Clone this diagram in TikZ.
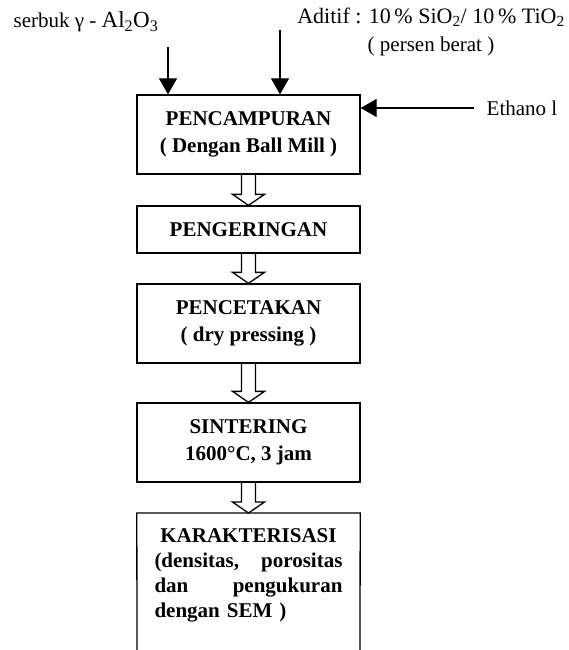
\documentclass[tikz,border=0pt]{standalone}
\usepackage{fontspec}
\setmainfont{Liberation Serif}
\usepackage{tikz}
\usetikzlibrary{calc}
\usetikzlibrary{arrows.meta}
\usetikzlibrary{positioning}

% hollow double-stem arrow between two boxes
\newcommand{\flowstep}[2]{%
  \draw[hollow] ($(#1.south)+(-7,0)$) -- ($(#2.north)+(-7,-11)$)
    -- ($(#2.north)+(-16,-11)$) -- (#2.north) -- ($(#2.north)+(16,-11)$)
    -- ($(#2.north)+(7,-11)$) -- ($(#1.south)+(7,0)$);}

\begin{document}
\begin{tikzpicture}[x=1pt, y=-1pt,
      stepbox/.style={draw, line width=1.3pt, minimum width=223pt, align=center,
        inner sep=0pt, font=\fontsize{21}{27}\selectfont\bfseries},
      lbl/.style={inner sep=0pt, font=\fontsize{21}{24}\selectfont},
      arr/.style={-{Triangle[length=16pt, width=18pt]}, line width=1.3pt},
      hollow/.style={line width=1.3pt}]
    \useasboundingbox (0,0) rectangle (569,650);
    % inputs
    \node[lbl] (serbuk) at (86,22) {serbuk γ - \fontsize{23}{24}\selectfont Al\textsubscript{2}O\textsubscript{3}};
    \node[lbl, font=\fontsize{22}{24}\selectfont] (aditif) at (431,17)
      {Aditif : 10\,\% SiO\textsubscript{2}/ 10\,\% TiO\textsubscript{2}};
    \node[lbl] (persen) at (431,46) {( persen berat )};
    \node[lbl] (eth) at (522,108) {Ethano l};
    % process steps
    \node[stepbox, minimum height=79pt] (mix) at (248.5,134.5)
      {PENCAMPURAN\\( Dengan Ball Mill )};
    \node[stepbox, minimum height=47pt] (dry) at (248.5,229.5) {PENGERINGAN};
    \node[stepbox, minimum height=79pt] (press) at (248.5,323.5)
      {PENCETAKAN\\( dry pressing )};
    \node[stepbox, minimum height=79pt] (sinter) at (248.5,442.5)
      {SINTERING\\1600\textdegree C, 3 jam};
    \node[anchor=north, text width=188pt, inner xsep=17.5pt, inner ysep=15pt,
      font=\fontsize{21}{25}\selectfont\bfseries, align=left] (kar) at (248.5,513)
      {\centering KARAKTERISASI\par
       \raggedright (densitas,\hfill porositas\\ dan\hfill pengukuran\\ dengan SEM )};
    \coordinate (karsw) at (137,650);
    \coordinate (karse) at (360,650);
    \draw[line width=1.3pt] (karsw) -- (kar.north west) -- (kar.north east) -- (karse);
    % feed arrows
    \coordinate (a1) at (168,47);
    \coordinate (a2) at (280,30);
    \draw[arr] (a1) -- (a1 |- mix.north);
    \draw[arr] (a2) -- (a2 |- mix.north);
    \draw[arr, shorten <=13pt] (eth.west) -- (eth.west -| mix.east);
    % flow
    \flowstep{mix}{dry}
    \flowstep{dry}{press}
    \flowstep{press}{sinter}
    \flowstep{sinter}{kar}
  \end{tikzpicture}
\end{document}
